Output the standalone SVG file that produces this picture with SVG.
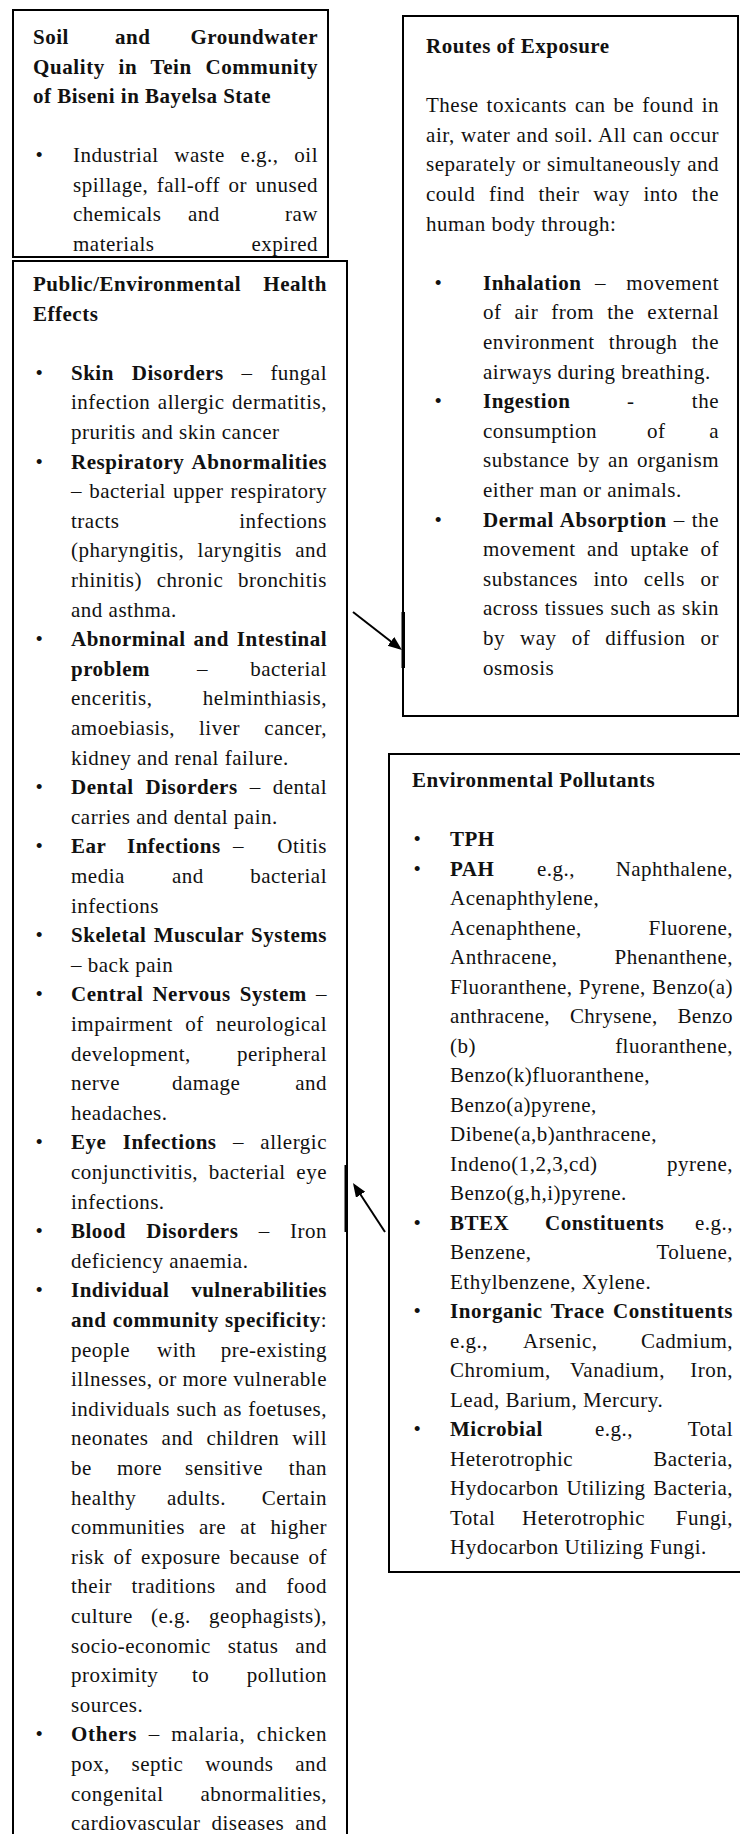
<svg xmlns="http://www.w3.org/2000/svg" width="740" height="1834" viewBox="0 0 740 1834">
<style>
.t{font-family:"Liberation Serif","Times New Roman",serif;font-size:21px;fill:#111;letter-spacing:0.5px}
.b{font-weight:bold}
.e{text-anchor:end}
.box{fill:none;stroke:#000;stroke-width:2}
.arr{stroke:#000;stroke-width:2;fill:none}
</style>
<defs>
<marker id="ah" markerUnits="userSpaceOnUse" markerWidth="14" markerHeight="12" refX="11" refY="5.5" orient="auto">
<path d="M0,0 L14,5.5 L0,11 z" fill="#000"/>
</marker>
</defs>
<rect width="740" height="1834" fill="#fff"/>

<g id="node-source">
<rect class="box" x="13" y="10" width="315" height="247"/>
<text class="t b" x="33" y="44">Soil</text>
<text class="t b" x="115" y="44">and</text>
<text class="t b e" x="318" y="44">Groundwater</text>
<text class="t b" x="33" y="73.5" word-spacing="7.8" textLength="285" lengthAdjust="spacing">Quality in Tein Community</text>
<text class="t b" x="33" y="103">of Biseni in Bayelsa State</text>
<text class="t" x="35.5" y="162">•</text>
<text class="t" x="73" y="162" word-spacing="10" textLength="245" lengthAdjust="spacing">Industrial waste e.g., oil</text>
<text class="t" x="73" y="191.5" word-spacing="2.7" textLength="245" lengthAdjust="spacing">spillage, fall-off or unused</text>
<text class="t" x="73" y="221">chemicals</text>
<text class="t" x="188" y="221">and</text>
<text class="t e" x="318" y="221">raw</text>
<text class="t" x="73" y="250.5">materials</text>
<text class="t e" x="318" y="250.5">expired</text>
</g>

<g id="node-health">
<rect class="box" x="13" y="261" width="334" height="1590"/>
<text class="t b" x="33" y="291">Public/Environmental</text>
<text class="t b e" x="327" y="291">Health</text>
<text class="t b" x="33" y="320.6">Effects</text>

<text class="t" x="35.5" y="379.8">•</text>
<text class="t" x="71" y="379.8" word-spacing="12.1" textLength="256" lengthAdjust="spacing"><tspan class="b">Skin Disorders</tspan> – fungal</text>
<text class="t" x="71" y="409.4" word-spacing="1.8" textLength="256" lengthAdjust="spacing">infection allergic dermatitis,</text>
<text class="t" x="71" y="439">pruritis and skin cancer</text>

<text class="t" x="35.5" y="468.6">•</text>
<text class="t b" x="71" y="468.6" word-spacing="2.6" textLength="256" lengthAdjust="spacing">Respiratory Abnormalities</text>
<text class="t" x="71" y="498.2" word-spacing="1.4" textLength="256" lengthAdjust="spacing">– bacterial upper respiratory</text>
<text class="t" x="71" y="527.8">tracts</text>
<text class="t e" x="327" y="527.8">infections</text>
<text class="t" x="71" y="557.4" word-spacing="7.5" textLength="256" lengthAdjust="spacing">(pharyngitis, laryngitis and</text>
<text class="t" x="71" y="587" word-spacing="9" textLength="256" lengthAdjust="spacing">rhinitis) chronic bronchitis</text>
<text class="t" x="71" y="616.6">and asthma.</text>

<text class="t" x="35.5" y="646.2">•</text>
<text class="t b" x="71" y="646.2" word-spacing="2.1" textLength="256" lengthAdjust="spacing">Abnorminal and Intestinal</text>
<text class="t b" x="71" y="675.8">problem</text>
<text class="t" x="197" y="675.8">–</text>
<text class="t e" x="327" y="675.8">bacterial</text>
<text class="t" x="71" y="705.4">enceritis,</text>
<text class="t e" x="327" y="705.4">helminthiasis,</text>
<text class="t" x="71" y="735">amoebiasis,</text>
<text class="t" x="199" y="735">liver</text>
<text class="t e" x="327" y="735">cancer,</text>
<text class="t" x="71" y="764.6">kidney and renal failure.</text>

<text class="t" x="35.5" y="794.2">•</text>
<text class="t" x="71" y="794.2" word-spacing="6.3" textLength="256" lengthAdjust="spacing"><tspan class="b">Dental Disorders</tspan> – dental</text>
<text class="t" x="71" y="823.8">carries and dental pain.</text>

<text class="t" x="35.5" y="853.4">•</text>
<text class="t b" x="71" y="853.4">Ear</text>
<text class="t b" x="127" y="853.4">Infections</text>
<text class="t" x="233" y="853.4">–</text>
<text class="t e" x="327" y="853.4">Otitis</text>
<text class="t" x="71" y="883">media</text>
<text class="t" x="172" y="883">and</text>
<text class="t e" x="327" y="883">bacterial</text>
<text class="t" x="71" y="912.6">infections</text>

<text class="t" x="35.5" y="942.2">•</text>
<text class="t b" x="71" y="942.2" word-spacing="1.6" textLength="256" lengthAdjust="spacing">Skeletal Muscular Systems</text>
<text class="t" x="71" y="971.8">– back pain</text>

<text class="t" x="35.5" y="1001.4">•</text>
<text class="t" x="71" y="1001.4" word-spacing="3.4" textLength="256" lengthAdjust="spacing"><tspan class="b">Central Nervous System</tspan> –</text>
<text class="t" x="71" y="1031" word-spacing="6.6" textLength="256" lengthAdjust="spacing">impairment of neurological</text>
<text class="t" x="71" y="1060.6">development,</text>
<text class="t e" x="327" y="1060.6">peripheral</text>
<text class="t" x="71" y="1090.2">nerve</text>
<text class="t" x="172" y="1090.2">damage</text>
<text class="t e" x="327" y="1090.2">and</text>
<text class="t" x="71" y="1119.8">headaches.</text>

<text class="t" x="35.5" y="1149.4">•</text>
<text class="t" x="71" y="1149.4" word-spacing="10.6" textLength="256" lengthAdjust="spacing"><tspan class="b">Eye Infections</tspan> – allergic</text>
<text class="t" x="71" y="1179" word-spacing="5" textLength="256" lengthAdjust="spacing">conjunctivitis, bacterial eye</text>
<text class="t" x="71" y="1208.6">infections.</text>

<text class="t" x="35.5" y="1238.2">•</text>
<text class="t" x="71" y="1238.2" word-spacing="14.6" textLength="256" lengthAdjust="spacing"><tspan class="b">Blood Disorders</tspan> – Iron</text>
<text class="t" x="71" y="1267.8">deficiency anaemia.</text>

<text class="t" x="35.5" y="1297.4">•</text>
<text class="t b" x="71" y="1297.4">Individual</text>
<text class="t b e" x="327" y="1297.4">vulnerabilities</text>
<text class="t" x="71" y="1327" word-spacing="0.5" textLength="256" lengthAdjust="spacing"><tspan class="b">and community specificity</tspan>:</text>
<text class="t" x="71" y="1356.6">people</text>
<text class="t" x="157" y="1356.6">with</text>
<text class="t e" x="327" y="1356.6">pre-existing</text>
<text class="t" x="71" y="1386.2" textLength="256" lengthAdjust="spacing">illnesses, or more vulnerable</text>
<text class="t" x="71" y="1415.8" word-spacing="0.6" textLength="256" lengthAdjust="spacing">individuals such as foetuses,</text>
<text class="t" x="71" y="1445.4" word-spacing="7.3" textLength="256" lengthAdjust="spacing">neonates and children will</text>
<text class="t" x="71" y="1475">be</text>
<text class="t" x="117" y="1475">more</text>
<text class="t" x="185" y="1475">sensitive</text>
<text class="t e" x="327" y="1475">than</text>
<text class="t" x="71" y="1504.6">healthy</text>
<text class="t" x="167" y="1504.6">adults.</text>
<text class="t e" x="327" y="1504.6">Certain</text>
<text class="t" x="71" y="1534.2" word-spacing="8.3" textLength="256" lengthAdjust="spacing">communities are at higher</text>
<text class="t" x="71" y="1563.8" word-spacing="3.2" textLength="256" lengthAdjust="spacing">risk of exposure because of</text>
<text class="t" x="71" y="1593.4" word-spacing="13.7" textLength="256" lengthAdjust="spacing">their traditions and food</text>
<text class="t" x="71" y="1623" word-spacing="12.5" textLength="256" lengthAdjust="spacing">culture (e.g. geophagists),</text>
<text class="t" x="71" y="1652.6" word-spacing="11" textLength="256" lengthAdjust="spacing">socio-economic status and</text>
<text class="t" x="71" y="1682.2">proximity</text>
<text class="t" x="192" y="1682.2">to</text>
<text class="t e" x="327" y="1682.2">pollution</text>
<text class="t" x="71" y="1711.8">sources.</text>

<text class="t" x="35.5" y="1741.4">•</text>
<text class="t" x="71" y="1741.4" word-spacing="5.5" textLength="256" lengthAdjust="spacing"><tspan class="b">Others</tspan> – malaria, chicken</text>
<text class="t" x="71" y="1771" word-spacing="16" textLength="256" lengthAdjust="spacing">pox, septic wounds and</text>
<text class="t" x="71" y="1800.6">congenital</text>
<text class="t e" x="327" y="1800.6">abnormalities,</text>
<text class="t" x="71" y="1830.2" word-spacing="5.2" textLength="256" lengthAdjust="spacing">cardiovascular diseases and</text>
</g>

<g id="node-routes">
<rect class="box" x="403" y="16" width="335" height="700"/>
<text class="t b" x="426" y="53">Routes of Exposure</text>
<text class="t" x="426" y="112.2" word-spacing="2.2" textLength="293" lengthAdjust="spacing">These toxicants can be found in</text>
<text class="t" x="426" y="141.8" word-spacing="0.3" textLength="293" lengthAdjust="spacing">air, water and soil. All can occur</text>
<text class="t" x="426" y="171.4" word-spacing="0.4" textLength="293" lengthAdjust="spacing">separately or simultaneously and</text>
<text class="t" x="426" y="201" word-spacing="8" textLength="293" lengthAdjust="spacing">could find their way into the</text>
<text class="t" x="426" y="230.6">human body through:</text>

<text class="t" x="434.5" y="289.8">•</text>
<text class="t b" x="483" y="289.8">Inhalation</text>
<text class="t" x="595" y="289.8">–</text>
<text class="t e" x="719" y="289.8">movement</text>
<text class="t" x="483" y="319.4" word-spacing="7.3" textLength="236" lengthAdjust="spacing">of air from the external</text>
<text class="t" x="483" y="349" word-spacing="8.5" textLength="236" lengthAdjust="spacing">environment through the</text>
<text class="t" x="483" y="378.6">airways during breathing.</text>

<text class="t" x="434.5" y="408.2">•</text>
<text class="t b" x="483" y="408.2">Ingestion</text>
<text class="t" x="627" y="408.2">-</text>
<text class="t e" x="719" y="408.2">the</text>
<text class="t" x="483" y="437.8">consumption</text>
<text class="t" x="647" y="437.8">of</text>
<text class="t e" x="719" y="437.8">a</text>
<text class="t" x="483" y="467.4" word-spacing="2.5" textLength="236" lengthAdjust="spacing">substance by an organism</text>
<text class="t" x="483" y="497">either man or animals.</text>

<text class="t" x="434.5" y="526.6">•</text>
<text class="t" x="483" y="526.6" word-spacing="1.1" textLength="236" lengthAdjust="spacing"><tspan class="b">Dermal Absorption</tspan> – the</text>
<text class="t" x="483" y="556.2" word-spacing="5.6" textLength="236" lengthAdjust="spacing">movement and uptake of</text>
<text class="t" x="483" y="585.8" word-spacing="9.8" textLength="236" lengthAdjust="spacing">substances into cells or</text>
<text class="t" x="483" y="615.4" word-spacing="0.5" textLength="236" lengthAdjust="spacing">across tissues such as skin</text>
<text class="t" x="483" y="645" word-spacing="9.3" textLength="236" lengthAdjust="spacing">by way of diffusion or</text>
<text class="t" x="483" y="674.6">osmosis</text>
</g>

<g id="node-pollutants">
<rect class="box" x="389" y="754" width="370" height="818"/>
<text class="t b" x="412" y="787">Environmental Pollutants</text>

<text class="t" x="413.5" y="846">•</text>
<text class="t b" x="450" y="846">TPH</text>

<text class="t" x="413.5" y="875.5">•</text>
<text class="t b" x="450" y="875.5">PAH</text>
<text class="t" x="537" y="875.5">e.g.,</text>
<text class="t e" x="733" y="875.5">Naphthalene,</text>
<text class="t" x="450" y="905">Acenaphthylene,</text>
<text class="t" x="450" y="934.5">Acenaphthene,</text>
<text class="t e" x="733" y="934.5">Fluorene,</text>
<text class="t" x="450" y="964">Anthracene,</text>
<text class="t e" x="733" y="964">Phenanthene,</text>
<text class="t" x="450" y="993.5" word-spacing="0.5" textLength="283" lengthAdjust="spacing">Fluoranthene, Pyrene, Benzo(a)</text>
<text class="t" x="450" y="1023" word-spacing="14.4" textLength="283" lengthAdjust="spacing">anthracene, Chrysene, Benzo</text>
<text class="t" x="450" y="1052.5">(b)</text>
<text class="t e" x="733" y="1052.5">fluoranthene,</text>
<text class="t" x="450" y="1082">Benzo(k)fluoranthene,</text>
<text class="t" x="450" y="1111.5">Benzo(a)pyrene,</text>
<text class="t" x="450" y="1141">Dibene(a,b)anthracene,</text>
<text class="t" x="450" y="1170.5">Indeno(1,2,3,cd)</text>
<text class="t e" x="733" y="1170.5">pyrene,</text>
<text class="t" x="450" y="1200">Benzo(g,h,i)pyrene.</text>

<text class="t" x="413.5" y="1229.5">•</text>
<text class="t b" x="450" y="1229.5">BTEX</text>
<text class="t b" x="545" y="1229.5">Constituents</text>
<text class="t e" x="733" y="1229.5">e.g.,</text>
<text class="t" x="450" y="1259">Benzene,</text>
<text class="t e" x="733" y="1259">Toluene,</text>
<text class="t" x="450" y="1288.5">Ethylbenzene, Xylene.</text>

<text class="t" x="413.5" y="1318">•</text>
<text class="t b" x="450" y="1318" word-spacing="2.6" textLength="283" lengthAdjust="spacing">Inorganic Trace Constituents</text>
<text class="t" x="450" y="1347.5">e.g.,</text>
<text class="t" x="523" y="1347.5">Arsenic,</text>
<text class="t e" x="733" y="1347.5">Cadmium,</text>
<text class="t" x="450" y="1377">Chromium,</text>
<text class="t" x="570" y="1377">Vanadium,</text>
<text class="t e" x="733" y="1377">Iron,</text>
<text class="t" x="450" y="1406.5">Lead, Barium, Mercury.</text>

<text class="t" x="413.5" y="1436">•</text>
<text class="t b" x="450" y="1436">Microbial</text>
<text class="t" x="595" y="1436">e.g.,</text>
<text class="t e" x="733" y="1436">Total</text>
<text class="t" x="450" y="1465.5">Heterotrophic</text>
<text class="t e" x="733" y="1465.5">Bacteria,</text>
<text class="t" x="450" y="1495" word-spacing="1.9" textLength="283" lengthAdjust="spacing">Hydocarbon Utilizing Bacteria,</text>
<text class="t" x="450" y="1524.5">Total</text>
<text class="t" x="522" y="1524.5">Heterotrophic</text>
<text class="t e" x="733" y="1524.5">Fungi,</text>
<text class="t" x="450" y="1554">Hydocarbon Utilizing Fungi.</text>
</g>

<g id="connectors">
<line class="arr" x1="353" y1="612" x2="399.6" y2="648.2" marker-end="url(#ah)"/>
<line class="arr" x1="385" y1="1232" x2="354.6" y2="1185.5" marker-end="url(#ah)"/>
<rect x="401.5" y="612" width="3.5" height="56" fill="#000"/>
<rect x="344.5" y="1165" width="3.5" height="67" fill="#000"/>
</g>
</svg>
